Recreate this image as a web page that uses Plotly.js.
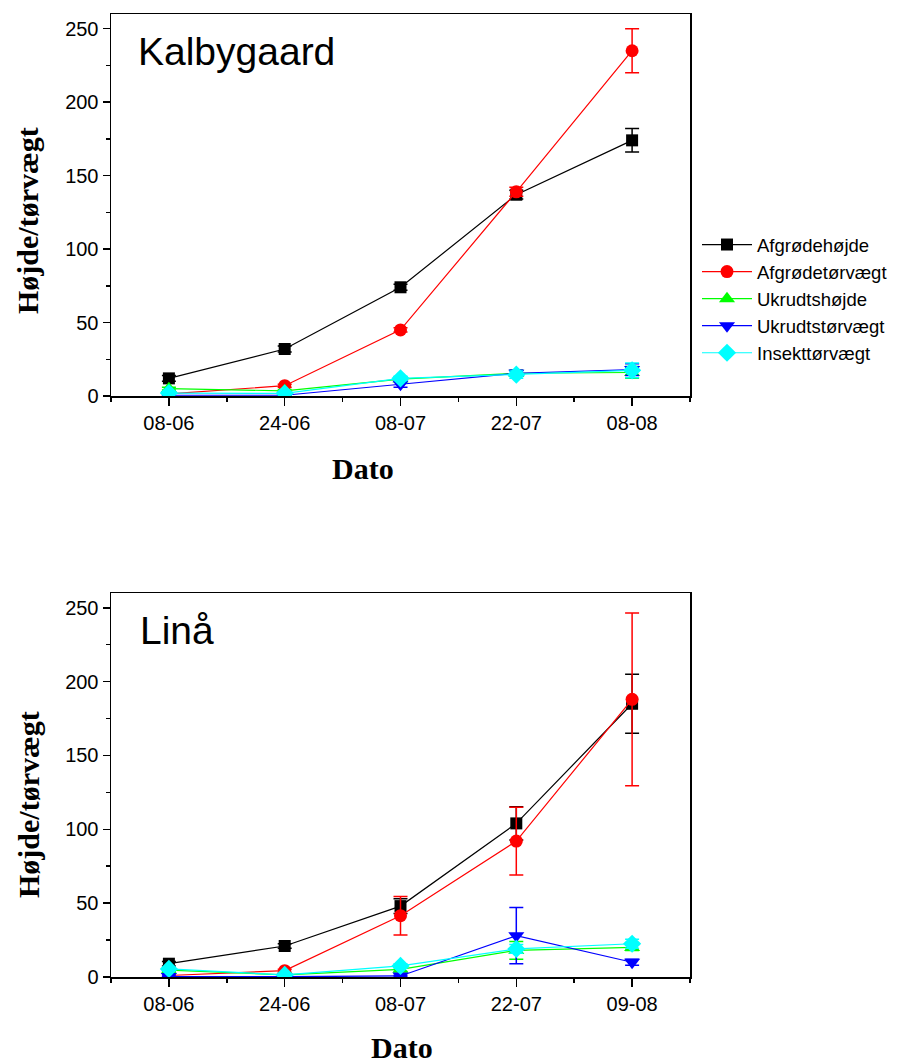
<!DOCTYPE html>
<html><head><meta charset="utf-8">
<script src="https://cdn.plot.ly/plotly-3.0.1.min.js"></script>
<style>html,body{margin:0;padding:0;background:#fff}#chart{width:910px;height:1063px}</style>
</head><body><div id="chart"></div>
<script>
// Categories (dates)
const datesKalby = ['08-06', '24-06', '08-07', '22-07', '08-08'];
const datesLinaa = ['08-06', '24-06', '08-07', '22-07', '09-08'];

// Series names
const seriesNames = ['Afgrødehøjde', 'Afgrødetørvægt', 'Ukrudtshøjde', 'Ukrudtstørvægt', 'Insekttørvægt'];

// Kalbygaard values and error bars
const afgHoejdeK = [12, 32, 74, 137, 174];
const afgHoejdeKErr = [2, 2, 2, 3, 8];
const afgTorK = [1.4, 7, 45, 139, 235];
const afgTorKErr = [1, 1, 1.5, 3, 15];
const ukrHoejdeK = [5, 3.5, 11.5, 15.5, 16];
const ukrHoejdeKErr = [1, 1, 1.5, 2, 4];
const ukrTorK = [0.5, 0.5, 8, 15.5, 18];
const ukrTorKErr = [0.5, 0.5, 2, 2, 4];
const insektK = [2, 1.8, 12, 14.5, 17.5];
const insektKErr = [0.5, 0.5, 1.5, 2.5, 5];

// Linå values and error bars
const afgHoejdeL = [9, 21, 48, 104, 185];
const afgHoejdeLErr = [1.5, 1.5, 5, 11.3, 20];
const afgTorL = [1, 4.3, 41.5, 92, 188];
const afgTorLErr = [1, 1, 13, 23, 58.5];
const ukrHoejdeL = [4.7, 1.4, 5.2, 18, 20];
const ukrHoejdeLErr = [1, 1, 1.5, 6, 2];
const ukrTorL = [0.3, 0.2, 0.7, 28, 10];
const ukrTorLErr = [0.3, 0.3, 0.5, 19, 2];
const insektL = [5.5, 1.4, 7.5, 19, 22.5];
const insektLErr = [1, 1, 1.5, 3, 3];

const colors = ['#000000', '#ff0000', '#00ff00', '#0000ff', '#00ffff'];
const symbols = ['square', 'circle', 'triangle-up', 'triangle-down', 'diamond'];
const sizes = [12, 13, 14, 14, 14];

function mk(i, cats, y, err, xa, ya, showlegend) {
  return {
    type: 'scatter', mode: 'lines+markers', name: seriesNames[i],
    x: cats.map((c, k) => k), y: y,
    xaxis: xa, yaxis: ya, showlegend: showlegend,
    line: {color: colors[i], width: 1.2},
    marker: {color: colors[i], symbol: symbols[i], size: sizes[i]},
    error_y: {type: 'data', array: err, visible: true, color: colors[i], thickness: 1.5, width: 7},
    hoverinfo: 'x+y'
  };
}

const traces = [
  mk(0, datesKalby, afgHoejdeK, afgHoejdeKErr, 'x', 'y', true),
  mk(1, datesKalby, afgTorK, afgTorKErr, 'x', 'y', true),
  mk(2, datesKalby, ukrHoejdeK, ukrHoejdeKErr, 'x', 'y', true),
  mk(3, datesKalby, ukrTorK, ukrTorKErr, 'x', 'y', true),
  mk(4, datesKalby, insektK, insektKErr, 'x', 'y', true),
  mk(0, datesLinaa, afgHoejdeL, afgHoejdeLErr, 'x2', 'y2', false),
  mk(1, datesLinaa, afgTorL, afgTorLErr, 'x2', 'y2', false),
  mk(2, datesLinaa, ukrHoejdeL, ukrHoejdeLErr, 'x2', 'y2', false),
  mk(3, datesLinaa, ukrTorL, ukrTorLErr, 'x2', 'y2', false),
  mk(4, datesLinaa, insektL, insektLErr, 'x2', 'y2', false)
];

const W = 910, H = 1063;
const tickFont = {family: 'Liberation Sans, Arial, sans-serif', size: 20, color: '#000'};

function xAxis(cats, anchor) {
  return {
    domain: [111 / W, 690 / W], anchor: anchor, range: [-0.5, 4.5],
    tickmode: 'array', tickvals: cats.map((c, k) => k), ticktext: cats,
    ticks: 'outside', ticklen: 8, tickwidth: 1.5, tickcolor: '#000',
    minor: {tickmode: 'array', tickvals: [-0.5, 0.5, 1.5, 2.5, 3.5, 4.5], ticks: 'outside', ticklen: 4, tickwidth: 1.5, tickcolor: '#000', showgrid: false},
    showline: true, mirror: true, linecolor: '#000', linewidth: 1.5,
    showgrid: false, zeroline: false, tickfont: tickFont, fixedrange: true
  };
}
function yAxis(top, bottom, anchor) {
  return {
    domain: [1 - bottom / H, 1 - top / H], anchor: anchor, range: [0, 260],
    tickmode: 'linear', tick0: 0, dtick: 50,
    ticks: 'outside', ticklen: 7, tickwidth: 1.5, tickcolor: '#000',
    minor: {tick0: 0, dtick: 25, ticks: 'outside', ticklen: 4, tickwidth: 1.5, tickcolor: '#000', showgrid: false},
    showline: true, mirror: true, linecolor: '#000', linewidth: 1.5,
    showgrid: false, zeroline: false, tickfont: tickFont, fixedrange: true
  };
}

const serifTitle = {family: 'Liberation Serif, Times New Roman, serif', size: 30, color: '#000', weight: 'bold'};
const ann = (text, px, py, opts) => Object.assign({
  text: text, xref: 'paper', yref: 'paper', x: px / W, y: 1 - py / H,
  showarrow: false, xanchor: 'center', yanchor: 'middle'
}, opts);

const layout = {
  width: W, height: H,
  margin: {l: 0, r: 0, t: 0, b: 0},
  paper_bgcolor: '#fff', plot_bgcolor: '#fff',
  font: {family: 'Liberation Sans, Arial, sans-serif', color: '#000'},
  xaxis: xAxis(datesKalby, 'y'),
  yaxis: yAxis(14, 396, 'x'),
  xaxis2: xAxis(datesLinaa, 'y2'),
  yaxis2: yAxis(593, 977, 'x2'),
  showlegend: true,
  legend: {
    x: 697 / W, y: 1 - 226 / H, xanchor: 'left', yanchor: 'top',
    font: {family: 'Liberation Sans, Arial, sans-serif', size: 18.5, color: '#000'},
    bgcolor: 'rgba(0,0,0,0)', borderwidth: 0, itemwidth: 50, tracegroupgap: 0
  },
  annotations: [
    ann('Kalbygaard', 136, 52, {xanchor: 'left', font: {family: 'Liberation Sans, Arial, sans-serif', size: 39, color: '#000'}}),
    ann('Linå', 138, 630, {xanchor: 'left', font: {family: 'Liberation Sans, Arial, sans-serif', size: 39, color: '#000'}}),
    ann('Dato', 363, 468, {font: serifTitle}),
    ann('Dato', 402, 1047, {font: serifTitle}),
    ann('Højde/tørvægt', 28, 221, {textangle: -90, font: serifTitle}),
    ann('Højde/tørvægt', 28, 805, {textangle: -90, font: serifTitle})
  ]
};

Plotly.newPlot('chart', traces, layout, {displayModeBar: false, staticPlot: true});
</script></body></html>
